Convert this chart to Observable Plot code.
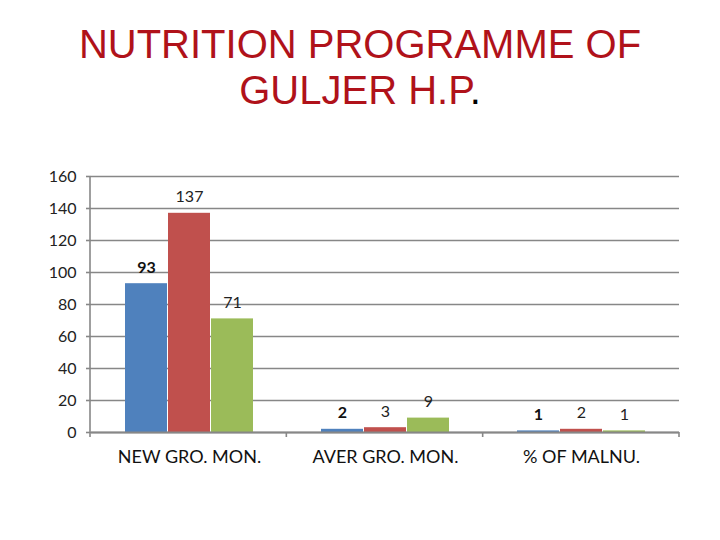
<!DOCTYPE html>
<html><head><meta charset="utf-8">
<script src="https://cdn.jsdelivr.net/npm/d3@7"></script>
<script src="https://cdn.jsdelivr.net/npm/@observablehq/plot@0.6"></script>
<style>
body{margin:0;background:#fff;width:720px;height:540px;overflow:hidden}
#title{height:130px;box-sizing:border-box;padding-top:21px;text-align:center;font-family:"Liberation Sans",Arial,sans-serif;font-size:40px;line-height:46px;color:#B0121A}
#chart svg{display:block}
</style></head><body>
<div id="title">NUTRITION PROGRAMME OF<br>GULJER H.P<span style="color:#000">.</span></div>
<div id="chart"></div>
<script>
const categories = ["NEW GRO. MON.", "AVER GRO. MON.", "% OF MALNU."];
const series = ["Series 1", "Series 2", "Series 3"];
const series1 = [93, 2, 1];
const series2 = [137, 3, 2];
const series3 = [71, 9, 1];
const yTicks = [0, 20, 40, 60, 80, 100, 120, 140, 160];
const colors = ["#4F81BD", "#C0504D", "#9BBB59"];

const values = [series1, series2, series3];
const rows = [];
categories.forEach((c, ci) => series.forEach((s, si) => rows.push({cat: c, ser: s, v: values[si][ci]})));

const font = "Lato, 'Open Sans', sans-serif";
const chart = Plot.plot({
  width: 720, height: 410,
  marginTop: 46, marginBottom: 108, marginLeft: 90, marginRight: 41,
  style: {fontFamily: font, background: "#fff"},
  fx: {domain: categories, padding: 0, label: null},
  x: {domain: series, paddingInner: 0.025, paddingOuter: 0.75, axis: null},
  y: {domain: [0, 160], ticks: yTicks, label: null},
  color: {domain: series, range: colors},
  marks: [
    Plot.gridY(yTicks, {stroke: "#878787", strokeOpacity: 1, strokeWidth: 1.6}),
    Plot.axisY(yTicks, {tickSize: 5, tickPadding: 10, stroke: "#878787", strokeWidth: 1.6, fontSize: 16, fill: "#222", style: "letter-spacing:2px", label: null}),
    Plot.barY(rows, {fx: "cat", x: "ser", y: "v", fill: "ser", insetLeft: 0, insetRight: 0}),
    Plot.ruleY([0], {stroke: "#878787", strokeWidth: 2.2}),
    Plot.text(rows.filter(d => d.ser === series[0]), {fx: "cat", x: "ser", y: "v", text: d => String(d.v), dy: -16, fontSize: 16, fontWeight: "bold", fill: "#111", lineAnchor: "middle", style: "letter-spacing:1px"}),
    Plot.text(rows.filter(d => d.ser !== series[0]), {fx: "cat", x: "ser", y: "v", text: d => String(d.v), dy: -16, fontSize: 16, fill: "#222", lineAnchor: "middle", style: "letter-spacing:1.5px"}),
    Plot.axisFx({anchor: "bottom", tickSize: 0, tickPadding: 18, fontSize: 18, fill: "#111", label: null})
  ]
});
document.getElementById("chart").appendChild(chart);

// axis line and category boundary ticks, from the plot's own scales
const fxs = chart.scale("fx");
const ys = chart.scale("y");
const band = d3.scaleBand().domain(fxs.domain).range(fxs.range).padding(0);
const yS = d3.scaleLinear().domain(ys.domain).range(ys.range);
const svg = d3.select(chart);
const g = svg.append("g").attr("stroke", "#878787").attr("stroke-width", 1.6);
const x0 = band(categories[0]);
g.append("line").attr("x1", x0).attr("x2", x0).attr("y1", yS(160)).attr("y2", yS(0) + 5);
categories.forEach(c => {
  const xe = band(c) + band.bandwidth();
  g.append("line").attr("x1", xe).attr("x2", xe).attr("y1", yS(0)).attr("y2", yS(0) + 5);
});
</script>
</body></html>
